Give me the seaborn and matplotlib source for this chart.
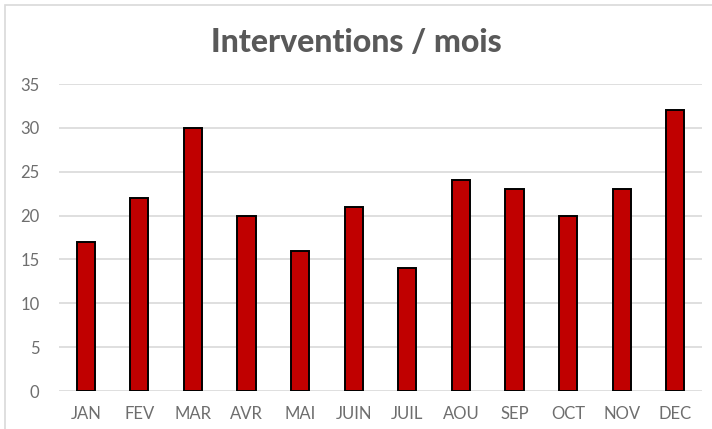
import matplotlib
matplotlib.use('Agg')
import matplotlib.pyplot as plt
import seaborn as sns
import pandas as pd
from matplotlib.patches import Rectangle

df = pd.DataFrame({
    'mois': ['JAN', 'FEV', 'MAR', 'AVR', 'MAI', 'JUIN', 'JUIL', 'AOU', 'SEP', 'OCT', 'NOV', 'DEC'],
    'interventions': [17, 22, 30, 20, 16, 21, 14, 24, 23, 20, 23, 32],
})

sns.set_style('white')
plt.rcParams['font.family'] = ['Lato', 'DejaVu Sans']

fig = plt.figure(figsize=(7.12, 4.29), dpi=100)
fig.patches.append(Rectangle((5 / 712, -0.01), 1.0, 1 - 5 / 429 + 0.01, transform=fig.transFigure,
                             fill=False, edgecolor='#d9d9d9', linewidth=1.2))
ax = fig.add_axes([59 / 712, 1 - 391 / 429, (702 - 59) / 712, (391 - 84) / 429])

sns.barplot(data=df, x='mois', y='interventions', color='#C00000', width=0.34,
            edgecolor='black', linewidth=1.4, saturation=1, ax=ax)

ax.set_ylim(0, 35)
ax.set_yticks(range(0, 36, 5))
ax.yaxis.grid(True, color='#d9d9d9', linewidth=1.2)
ax.set_axisbelow(True)
for s in ax.spines.values():
    s.set_visible(False)
ax.set_xlabel('')
ax.set_ylabel('')
ax.tick_params(axis='both', length=0, colors='#6e6e6e', labelsize=12)
ax.tick_params(axis='y', pad=14)
ax.tick_params(axis='x', pad=11)

fig.text(0.5, 1 - 42 / 429, 'Interventions / mois', ha='center', va='center',
         fontsize=23, fontweight='black', color='#595959')

fig.savefig('out.png', dpi=100)
